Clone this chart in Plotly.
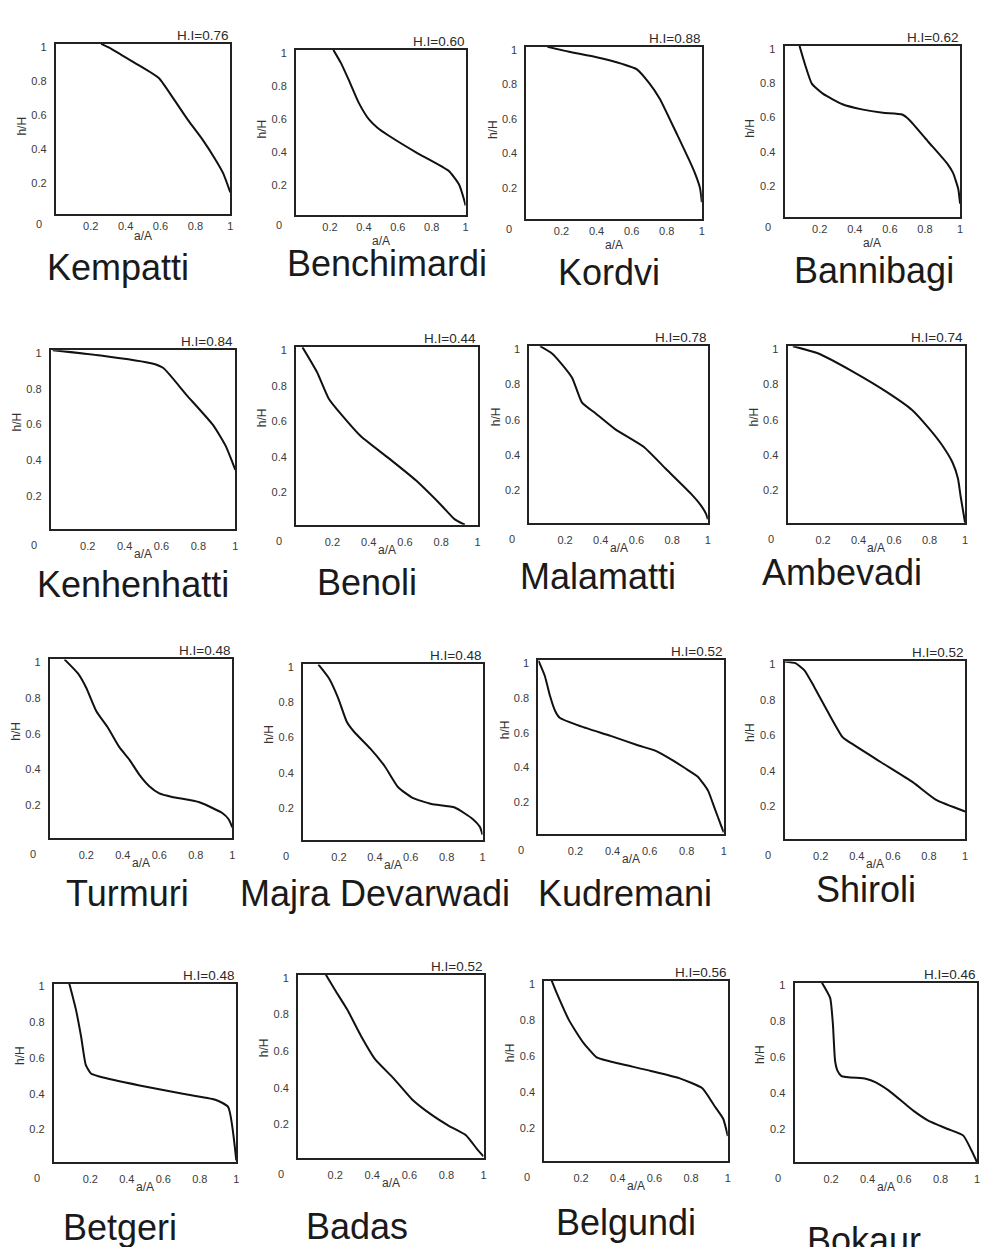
import plotly.graph_objects as go

W, H = 984, 1247

# ---------------- data ----------------
stations = ["Kempatti", "Benchimardi", "Kordvi", "Bannibagi",
            "Kenhenhatti", "Benoli", "Malamatti", "Ambevadi",
            "Turmuri", "Majra Devarwadi", "Kudremani", "Shiroli",
            "Betgeri", "Badas", "Belgundi", "Bokaur"]
hi_values = [0.76, 0.60, 0.88, 0.62,
             0.84, 0.44, 0.78, 0.74,
             0.48, 0.48, 0.52, 0.52,
             0.48, 0.52, 0.56, 0.46]
tick_vals = [0.2, 0.4, 0.6, 0.8, 1.0]
tick_text = ["0.2", "0.4", "0.6", "0.8", "1"]

kempatti_x = [0.26, 0.32, 0.45, 0.59, 0.68, 0.76, 0.84, 0.91, 0.96, 1.0]
kempatti_y = [1.0, 0.97, 0.89, 0.80, 0.67, 0.55, 0.44, 0.33, 0.24, 0.13]

benchimardi_x = [0.22, 0.265, 0.31, 0.37, 0.43, 0.48, 0.55, 0.71, 0.90, 0.96, 0.99, 1.0]
benchimardi_y = [1.0, 0.92, 0.82, 0.68, 0.58, 0.53, 0.48, 0.38, 0.27, 0.19, 0.10, 0.06]

kordvi_x = [0.12, 0.25, 0.40, 0.55, 0.63, 0.70, 0.76, 0.86, 0.93, 0.96, 0.99, 1.0]
kordvi_y = [1.0, 0.97, 0.94, 0.90, 0.87, 0.79, 0.70, 0.49, 0.34, 0.27, 0.18, 0.10]

bannibagi_x = [0.085, 0.12, 0.155, 0.22, 0.33, 0.44, 0.56, 0.67, 0.71, 0.82, 0.93, 0.96, 0.99, 1.0]
bannibagi_y = [1.0, 0.88, 0.78, 0.72, 0.66, 0.63, 0.61, 0.60, 0.57, 0.44, 0.31, 0.26, 0.165, 0.08]

kenhenhatti_x = [0.01, 0.27, 0.55, 0.61, 0.735, 0.88, 0.95, 0.985, 1.0]
kenhenhatti_y = [1.0, 0.97, 0.925, 0.90, 0.75, 0.58, 0.46, 0.37, 0.33]

benoli_x = [0.035, 0.115, 0.18, 0.25, 0.36, 0.51, 0.66, 0.80, 0.875, 0.93]
benoli_y = [1.0, 0.86, 0.71, 0.62, 0.495, 0.375, 0.25, 0.11, 0.03, 0.0]

malamatti_x = [0.06, 0.125, 0.18, 0.24, 0.295, 0.37, 0.48, 0.64, 0.76, 0.905, 0.96, 0.99, 1.0]
malamatti_y = [1.0, 0.96, 0.90, 0.82, 0.68, 0.62, 0.53, 0.43, 0.31, 0.165, 0.10, 0.05, 0.02]

ambevadi_x = [0.03, 0.17, 0.37, 0.56, 0.70, 0.80, 0.87, 0.93, 0.96, 0.975, 1.0]
ambevadi_y = [1.0, 0.96, 0.855, 0.74, 0.64, 0.53, 0.44, 0.34, 0.25, 0.15, 0.0]

turmuri_x = [0.08, 0.155, 0.20, 0.255, 0.32, 0.38, 0.435, 0.49, 0.545, 0.60, 0.67, 0.82, 0.945, 0.98, 1.0]
turmuri_y = [1.0, 0.92, 0.84, 0.71, 0.615, 0.51, 0.44, 0.355, 0.29, 0.25, 0.23, 0.20, 0.14, 0.105, 0.06]

majra_x = [0.085, 0.145, 0.195, 0.245, 0.285, 0.375, 0.455, 0.53, 0.61, 0.715, 0.845, 0.945, 0.985, 1.0]
majra_y = [1.0, 0.92, 0.81, 0.67, 0.615, 0.52, 0.42, 0.30, 0.24, 0.205, 0.185, 0.12, 0.075, 0.03]

kudremani_x = [0.0, 0.035, 0.063, 0.09, 0.115, 0.23, 0.39, 0.54, 0.63, 0.70, 0.79, 0.86, 0.915, 0.95, 0.985, 1.0]
kudremani_y = [1.0, 0.91, 0.795, 0.71, 0.67, 0.62, 0.565, 0.51, 0.48, 0.44, 0.38, 0.33, 0.25, 0.15, 0.05, 0.01]

shiroli_x = [0.0, 0.06, 0.11, 0.165, 0.24, 0.32, 0.345, 0.53, 0.71, 0.84, 1.0]
shiroli_y = [1.0, 0.99, 0.95, 0.855, 0.715, 0.575, 0.555, 0.435, 0.32, 0.22, 0.155]

betgeri_x = [0.085, 0.12, 0.15, 0.175, 0.205, 0.25, 0.47, 0.70, 0.885, 0.955, 1.0]
betgeri_y = [1.0, 0.86, 0.70, 0.545, 0.495, 0.48, 0.43, 0.385, 0.35, 0.31, 0.01]

badas_x = [0.15, 0.20, 0.265, 0.34, 0.415, 0.515, 0.615, 0.715, 0.815, 0.905, 0.965, 1.0]
badas_y = [1.0, 0.915, 0.81, 0.665, 0.54, 0.435, 0.32, 0.24, 0.175, 0.125, 0.05, 0.01]

belgundi_x = [0.04, 0.07, 0.135, 0.21, 0.285, 0.35, 0.58, 0.735, 0.86, 0.925, 0.975, 1.0]
belgundi_y = [1.0, 0.925, 0.78, 0.66, 0.575, 0.555, 0.50, 0.46, 0.405, 0.31, 0.235, 0.14]

bokaur_x = [0.15, 0.195, 0.21, 0.222, 0.235, 0.257, 0.39, 0.445, 0.515, 0.605, 0.66, 0.735, 0.84, 0.925, 0.97, 1.0]
bokaur_y = [1.0, 0.915, 0.77, 0.565, 0.51, 0.48, 0.465, 0.445, 0.40, 0.325, 0.28, 0.23, 0.185, 0.148, 0.065, 0.0]

curves_x = [kempatti_x, benchimardi_x, kordvi_x, bannibagi_x,
            kenhenhatti_x, benoli_x, malamatti_x, ambevadi_x,
            turmuri_x, majra_x, kudremani_x, shiroli_x,
            betgeri_x, badas_x, belgundi_x, bokaur_x]
curves_y = [kempatti_y, benchimardi_y, kordvi_y, bannibagi_y,
            kenhenhatti_y, benoli_y, malamatti_y, ambevadi_y,
            turmuri_y, majra_y, kudremani_y, shiroli_y,
            betgeri_y, badas_y, belgundi_y, bokaur_y]

# ---------------- layout (page-pixel boxes: left, right, top, bottom) ----------------
boxes = [(56, 231, 41, 212), (297, 467, 47, 213), (528, 704, 44, 217), (787, 963, 43, 215),
         (51, 236, 348, 527), (297, 479, 345, 523), (531, 710, 344, 521), (790, 968, 344, 521),
         (50, 233, 658, 837), (304, 484, 663, 839), (540, 726, 659, 833), (787, 968, 660, 838),
         (54, 237, 983, 1162), (299, 485, 974, 1158), (546, 730, 980, 1161), (797, 980, 982, 1162)]
name_pos = [(118, 265), (388, 261), (611, 270), (877, 268),
            (133, 583), (368, 581), (600, 575), (845, 571),
            (128, 893), (376, 893), (627, 893), (869, 889),
            (120, 1227), (358, 1226), (628, 1222), (867, 1240)]


def px_x(v):
    return v / W


def px_y(v):
    return 1 - v / H


FONT = "Liberation Sans, Arial, sans-serif"
fig = go.Figure()
layout = {}
annotations = []

for i in range(16):
    n = i + 1
    xa = "x" if n == 1 else f"x{n}"
    ya = "y" if n == 1 else f"y{n}"
    sfx = "" if n == 1 else str(n)
    row = i // 4
    l, r, t, b = boxes[i]

    fig.add_trace(go.Scatter(x=curves_x[i], y=curves_y[i], mode="lines",
                             line=dict(color="#111111", width=2, shape="spline", smoothing=0.5),
                             xaxis=xa, yaxis=ya, showlegend=False, hoverinfo="skip"))

    common = dict(range=[0, 1], showgrid=False, zeroline=False, showline=True, mirror=True,
                  linecolor="#222222", linewidth=2, ticks="", tickvals=tick_vals,
                  ticktext=tick_text, tickfont=dict(size=11, color="#3a3a3a", family=FONT),
                  fixedrange=True)
    xstand = 0 if row == 0 else 6
    layout[f"xaxis{sfx}"] = dict(domain=[px_x(l), px_x(r)], anchor=ya,
                                 ticklabelstandoff=xstand, **common)
    layout[f"yaxis{sfx}"] = dict(domain=[px_y(b), px_y(t)], anchor=xa,
                                 ticklabelstandoff=5, ticklabelshift=3, **common)

    xd, yd = f"{xa} domain", f"{ya} domain"
    # H.I label
    annotations.append(dict(xref=xd, yref=yd, x=1, y=1, xanchor="right", yanchor="bottom",
                            yshift=-1, showarrow=False, text=f"H.I={hi_values[i]:.2f}",
                            font=dict(size=13.5, color="#2a2a2a", family=FONT)))
    # corner zero
    zshift = -10 if row == 0 else -16
    annotations.append(dict(xref=xd, yref=yd, x=0, y=0, xanchor="center", yanchor="middle",
                            xshift=-17, yshift=zshift, showarrow=False, text="0",
                            font=dict(size=11, color="#3a3a3a", family=FONT)))
    # x title
    annotations.append(dict(xref=xd, yref=yd, x=0.5, y=0, xanchor="center", yanchor="middle",
                            yshift=(-22 if i == 0 else -26) if row == 0 else -25,
                            showarrow=False, text="a/A",
                            font=dict(size=12, color="#333333", family=FONT)))
    # y title
    annotations.append(dict(xref=xd, yref=yd, x=0, y=0.52 if row == 0 else 0.6,
                            xanchor="center", yanchor="middle", xshift=-34, textangle=-90,
                            showarrow=False, text="h/H",
                            font=dict(size=12, color="#333333", family=FONT)))
    # station name
    nx, ny = name_pos[i]
    annotations.append(dict(xref="paper", yref="paper", x=px_x(nx), y=px_y(ny),
                            xanchor="center", yanchor="middle", showarrow=False,
                            text=stations[i],
                            font=dict(size=36, color="#1a1a1a", family=FONT)))

fig.update_layout(width=W, height=H, margin=dict(l=0, r=0, t=0, b=0),
                  paper_bgcolor="white", plot_bgcolor="white",
                  annotations=annotations, **layout)

fig.write_html("out.html", config={"displayModeBar": False},
               post_script="document.body.style.margin='0';document.body.style.overflow='hidden';")
